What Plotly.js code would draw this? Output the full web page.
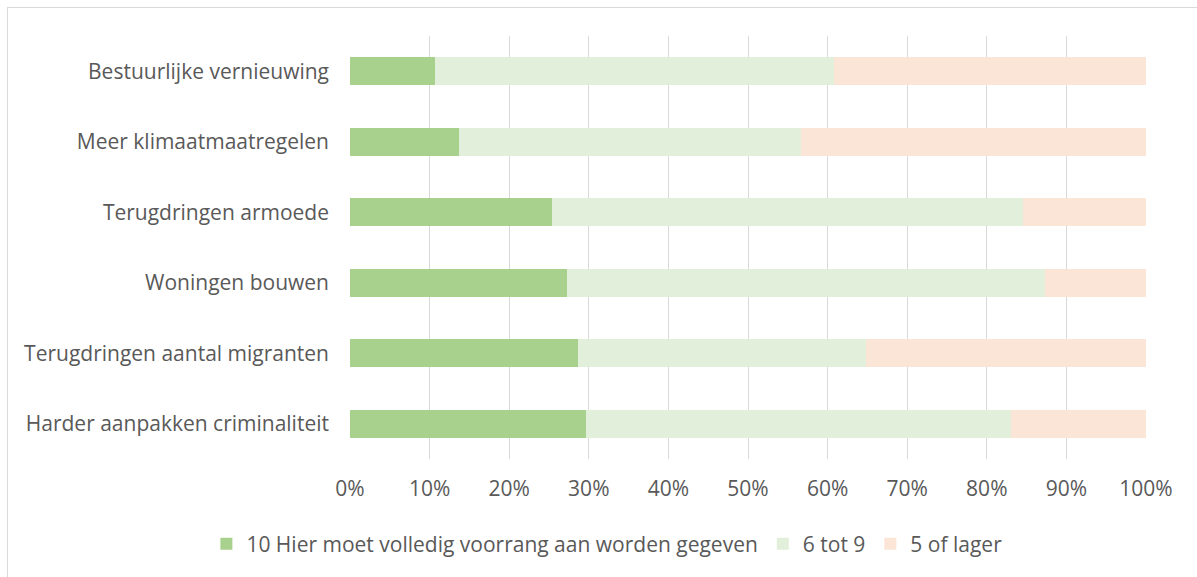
<!DOCTYPE html>
<html>
<head>
<meta charset="utf-8">
<script src="https://cdn.plot.ly/plotly-3.0.1.min.js"></script>
<style>
html,body{margin:0;padding:0;background:#fff;overflow:hidden;}
#wrap{position:relative;width:1197px;height:577px;overflow:hidden;}
#chart{position:absolute;left:0;top:0;width:1197px;height:577px;}
#frame{position:absolute;left:7px;top:7px;width:1300px;height:700px;border:1px solid #D9D9D9;pointer-events:none;}
</style>
</head>
<body>
<div id="wrap"><div id="chart"></div><div id="frame"></div></div>
<script>
// Categories, top to bottom
const categories = [
  "Bestuurlijke vernieuwing",
  "Meer klimaatmaatregelen",
  "Terugdringen armoede",
  "Woningen bouwen",
  "Terugdringen aantal migranten",
  "Harder aanpakken criminaliteit"
];
const seriesNames = [
  "10 Hier moet volledig voorrang aan worden gegeven",
  "6 tot 9",
  "5 of lager"
];
const prio10 = [10.7, 13.7, 25.4, 27.2, 28.6, 29.6];
const score6to9 = [50.1, 43.0, 59.1, 60.1, 36.2, 53.4];
const score5orLower = [39.2, 43.3, 15.5, 12.7, 35.2, 17.0];
const tickVals = [0,10,20,30,40,50,60,70,80,90,100];
const tickLabels = ["0%","10%","20%","30%","40%","50%","60%","70%","80%","90%","100%"];
const colors = ["#A9D18E", "#E2EFDA", "#FBE5D6"];

const fontFam = "'Open Sans', sans-serif";
const fs = 21;
const values = [prio10, score6to9, score5orLower];
const traces = values.map((v, i) => ({
  type: "bar",
  orientation: "h",
  name: seriesNames[i],
  x: v,
  y: categories,
  marker: {color: colors[i], line: {width: 0}},
  hoverinfo: "x+y+name"
}));

const layout = {
  width: 1197,
  height: 577,
  barmode: "stack",
  bargap: 0.6,
  paper_bgcolor: "rgba(0,0,0,0)",
  plot_bgcolor: "#fff",
  margin: {l: 350, r: 51, t: 36, b: 118},
  font: {family: fontFam, size: fs, color: "#595959"},
  xaxis: {
    range: [0, 100],
    tickvals: tickVals,
    ticktext: tickLabels,
    showgrid: true,
    gridcolor: "#D9D9D9",
    gridwidth: 1.3,
    zeroline: false,
    showline: false,
    ticks: "",
    ticklabelstandoff: 15,
    tickfont: {family: fontFam, size: fs, color: "#595959"},
    fixedrange: true
  },
  yaxis: {
    autorange: "reversed",
    showgrid: false,
    zeroline: false,
    showline: false,
    ticks: "",
    ticklabelstandoff: 20,
    tickfont: {family: fontFam, size: fs, color: "#595959"},
    fixedrange: true
  },
  legend: {
    orientation: "h",
    xref: "container",
    yref: "container",
    x: 0.507,
    xanchor: "center",
    y: 1 - 544/577,
    yanchor: "middle",
    font: {family: fontFam, size: fs, color: "#595959"},
    itemwidth: 30,
    traceorder: "normal",
    bgcolor: "rgba(0,0,0,0)"
  },
  showlegend: true
};

Plotly.newPlot("chart", traces, layout, {displayModeBar: false, staticPlot: false});
</script>
</body>
</html>
